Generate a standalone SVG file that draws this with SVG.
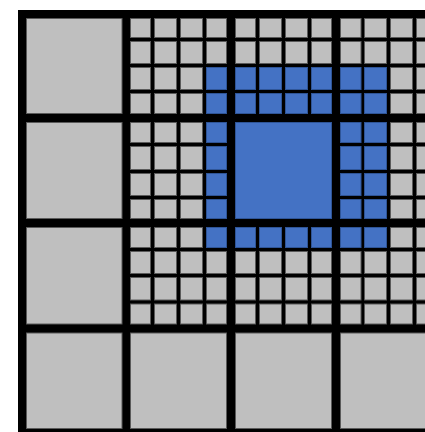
<svg xmlns="http://www.w3.org/2000/svg" width="425" height="432" viewBox="0 0 425 432">
<style>
.g{fill:#BFBFBF;stroke:#5A5A5A;stroke-width:1}
.b{fill:#4472C4;stroke:#2F5597;stroke-width:1}
</style>
<rect x="0" y="0" width="425" height="432" fill="#FFFFFF"/>
<rect id="frame" x="18" y="10" width="430" height="430" fill="#000000"/>
<g id="cell-0-0"><rect class="g" x="26.5" y="18.5" width="95.5" height="95"/></g>
<g id="cell-0-1"><rect class="g" x="26.5" y="122.5" width="95.5" height="96"/></g>
<g id="cell-0-2"><rect class="g" x="26.5" y="227.5" width="95.5" height="96.5"/></g>
<g id="cell-0-3"><rect class="g" x="26.5" y="333" width="95.5" height="95.5"/></g>
<g id="cell-1-3"><rect class="g" x="130.5" y="333" width="96" height="95.5"/></g>
<g id="cell-2-3"><rect class="g" x="235.5" y="333" width="96" height="95.5"/></g>
<g id="cell-3-3"><rect class="g" x="340.5" y="333" width="96" height="95.5"/></g>
<g id="cell-2-1"><rect class="b" x="235.5" y="122.5" width="96" height="96"/></g>
<g id="cell-1-0">
<rect class="g" x="130.5" y="18.5" width="20" height="19"/><rect class="g" x="154.5" y="18.5" width="22" height="19"/><rect class="g" x="180.5" y="18.5" width="22" height="19"/><rect class="g" x="206.5" y="18.5" width="20" height="19"/>
<rect class="g" x="130.5" y="41.5" width="20" height="22"/><rect class="g" x="154.5" y="41.5" width="22" height="22"/><rect class="g" x="180.5" y="41.5" width="22" height="22"/><rect class="g" x="206.5" y="41.5" width="20" height="22"/>
<rect class="g" x="130.5" y="67.5" width="20" height="22"/><rect class="g" x="154.5" y="67.5" width="22" height="22"/><rect class="g" x="180.5" y="67.5" width="22" height="22"/><rect class="b" x="206.5" y="67.5" width="20" height="22"/>
<rect class="g" x="130.5" y="93.5" width="20" height="20"/><rect class="g" x="154.5" y="93.5" width="22" height="20"/><rect class="g" x="180.5" y="93.5" width="22" height="20"/><rect class="b" x="206.5" y="93.5" width="20" height="20"/>
</g>
<g id="cell-2-0">
<rect class="g" x="235.5" y="18.5" width="20" height="19"/><rect class="g" x="259.5" y="18.5" width="22" height="19"/><rect class="g" x="285.5" y="18.5" width="22" height="19"/><rect class="g" x="311.5" y="18.5" width="20" height="19"/>
<rect class="g" x="235.5" y="41.5" width="20" height="22"/><rect class="g" x="259.5" y="41.5" width="22" height="22"/><rect class="g" x="285.5" y="41.5" width="22" height="22"/><rect class="g" x="311.5" y="41.5" width="20" height="22"/>
<rect class="b" x="235.5" y="67.5" width="20" height="22"/><rect class="b" x="259.5" y="67.5" width="22" height="22"/><rect class="b" x="285.5" y="67.5" width="22" height="22"/><rect class="b" x="311.5" y="67.5" width="20" height="22"/>
<rect class="b" x="235.5" y="93.5" width="20" height="20"/><rect class="b" x="259.5" y="93.5" width="22" height="20"/><rect class="b" x="285.5" y="93.5" width="22" height="20"/><rect class="b" x="311.5" y="93.5" width="20" height="20"/>
</g>
<g id="cell-3-0">
<rect class="g" x="340.5" y="18.5" width="20.5" height="19"/><rect class="g" x="364.5" y="18.5" width="22" height="19"/><rect class="g" x="390.5" y="18.5" width="22" height="19"/><rect class="g" x="416.5" y="18.5" width="20" height="19"/>
<rect class="g" x="340.5" y="41.5" width="20.5" height="22"/><rect class="g" x="364.5" y="41.5" width="22" height="22"/><rect class="g" x="390.5" y="41.5" width="22" height="22"/><rect class="g" x="416.5" y="41.5" width="20" height="22"/>
<rect class="b" x="340.5" y="67.5" width="20.5" height="22"/><rect class="b" x="364.5" y="67.5" width="22" height="22"/><rect class="g" x="390.5" y="67.5" width="22" height="22"/><rect class="g" x="416.5" y="67.5" width="20" height="22"/>
<rect class="b" x="340.5" y="93.5" width="20.5" height="20"/><rect class="b" x="364.5" y="93.5" width="22" height="20"/><rect class="g" x="390.5" y="93.5" width="22" height="20"/><rect class="g" x="416.5" y="93.5" width="20" height="20"/>
</g>
<g id="cell-1-1">
<rect class="g" x="130.5" y="122.5" width="20" height="20"/><rect class="g" x="154.5" y="122.5" width="22" height="20"/><rect class="g" x="180.5" y="122.5" width="22" height="20"/><rect class="b" x="206.5" y="122.5" width="20" height="20"/>
<rect class="g" x="130.5" y="146.5" width="20" height="23"/><rect class="g" x="154.5" y="146.5" width="22" height="23"/><rect class="g" x="180.5" y="146.5" width="22" height="23"/><rect class="b" x="206.5" y="146.5" width="20" height="23"/>
<rect class="g" x="130.5" y="173.5" width="20" height="22"/><rect class="g" x="154.5" y="173.5" width="22" height="22"/><rect class="g" x="180.5" y="173.5" width="22" height="22"/><rect class="b" x="206.5" y="173.5" width="20" height="22"/>
<rect class="g" x="130.5" y="199.5" width="20" height="19"/><rect class="g" x="154.5" y="199.5" width="22" height="19"/><rect class="g" x="180.5" y="199.5" width="22" height="19"/><rect class="b" x="206.5" y="199.5" width="20" height="19"/>
</g>
<g id="cell-3-1">
<rect class="b" x="340.5" y="122.5" width="20.5" height="20"/><rect class="b" x="364.5" y="122.5" width="22" height="20"/><rect class="g" x="390.5" y="122.5" width="22" height="20"/><rect class="g" x="416.5" y="122.5" width="20" height="20"/>
<rect class="b" x="340.5" y="146.5" width="20.5" height="23"/><rect class="b" x="364.5" y="146.5" width="22" height="23"/><rect class="g" x="390.5" y="146.5" width="22" height="23"/><rect class="g" x="416.5" y="146.5" width="20" height="23"/>
<rect class="b" x="340.5" y="173.5" width="20.5" height="22"/><rect class="b" x="364.5" y="173.5" width="22" height="22"/><rect class="g" x="390.5" y="173.5" width="22" height="22"/><rect class="g" x="416.5" y="173.5" width="20" height="22"/>
<rect class="b" x="340.5" y="199.5" width="20.5" height="19"/><rect class="b" x="364.5" y="199.5" width="22" height="19"/><rect class="g" x="390.5" y="199.5" width="22" height="19"/><rect class="g" x="416.5" y="199.5" width="20" height="19"/>
</g>
<g id="cell-1-2">
<rect class="g" x="130.5" y="227.5" width="20" height="20"/><rect class="g" x="154.5" y="227.5" width="22" height="20"/><rect class="g" x="180.5" y="227.5" width="22" height="20"/><rect class="b" x="206.5" y="227.5" width="20" height="20"/>
<rect class="g" x="130.5" y="251.5" width="20" height="22"/><rect class="g" x="154.5" y="251.5" width="22" height="22"/><rect class="g" x="180.5" y="251.5" width="22" height="22"/><rect class="g" x="206.5" y="251.5" width="20" height="22"/>
<rect class="g" x="130.5" y="277.5" width="20" height="22.5"/><rect class="g" x="154.5" y="277.5" width="22" height="22.5"/><rect class="g" x="180.5" y="277.5" width="22" height="22.5"/><rect class="g" x="206.5" y="277.5" width="20" height="22.5"/>
<rect class="g" x="130.5" y="304" width="20" height="20"/><rect class="g" x="154.5" y="304" width="22" height="20"/><rect class="g" x="180.5" y="304" width="22" height="20"/><rect class="g" x="206.5" y="304" width="20" height="20"/>
</g>
<g id="cell-2-2">
<rect class="b" x="235.5" y="227.5" width="20" height="20"/><rect class="b" x="259.5" y="227.5" width="22" height="20"/><rect class="b" x="285.5" y="227.5" width="22" height="20"/><rect class="b" x="311.5" y="227.5" width="20" height="20"/>
<rect class="g" x="235.5" y="251.5" width="20" height="22"/><rect class="g" x="259.5" y="251.5" width="22" height="22"/><rect class="g" x="285.5" y="251.5" width="22" height="22"/><rect class="g" x="311.5" y="251.5" width="20" height="22"/>
<rect class="g" x="235.5" y="277.5" width="20" height="22.5"/><rect class="g" x="259.5" y="277.5" width="22" height="22.5"/><rect class="g" x="285.5" y="277.5" width="22" height="22.5"/><rect class="g" x="311.5" y="277.5" width="20" height="22.5"/>
<rect class="g" x="235.5" y="304" width="20" height="20"/><rect class="g" x="259.5" y="304" width="22" height="20"/><rect class="g" x="285.5" y="304" width="22" height="20"/><rect class="g" x="311.5" y="304" width="20" height="20"/>
</g>
<g id="cell-3-2">
<rect class="b" x="340.5" y="227.5" width="20.5" height="20"/><rect class="b" x="364.5" y="227.5" width="22" height="20"/><rect class="g" x="390.5" y="227.5" width="22" height="20"/><rect class="g" x="416.5" y="227.5" width="20" height="20"/>
<rect class="g" x="340.5" y="251.5" width="20.5" height="22"/><rect class="g" x="364.5" y="251.5" width="22" height="22"/><rect class="g" x="390.5" y="251.5" width="22" height="22"/><rect class="g" x="416.5" y="251.5" width="20" height="22"/>
<rect class="g" x="340.5" y="277.5" width="20.5" height="22.5"/><rect class="g" x="364.5" y="277.5" width="22" height="22.5"/><rect class="g" x="390.5" y="277.5" width="22" height="22.5"/><rect class="g" x="416.5" y="277.5" width="20" height="22.5"/>
<rect class="g" x="340.5" y="304" width="20.5" height="20"/><rect class="g" x="364.5" y="304" width="22" height="20"/><rect class="g" x="390.5" y="304" width="22" height="20"/><rect class="g" x="416.5" y="304" width="20" height="20"/>
</g>
<g id="connectors"/>
</svg>
